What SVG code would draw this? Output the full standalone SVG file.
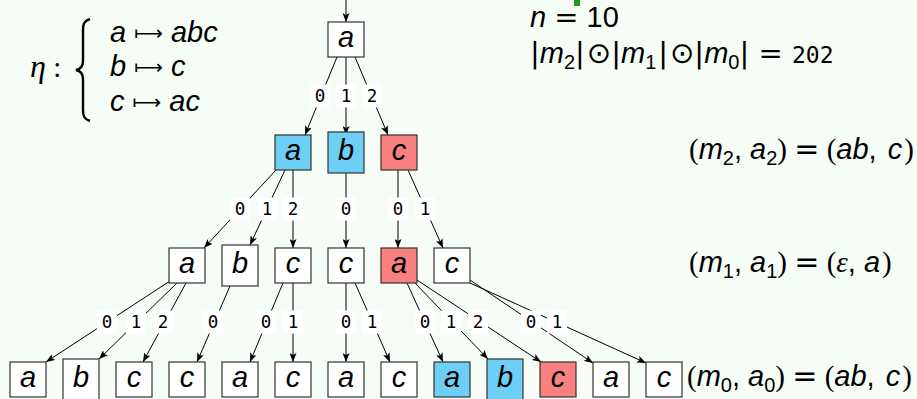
<svg xmlns="http://www.w3.org/2000/svg" width="917" height="399" viewBox="0 0 917 399">
<style>
.bg{fill:#f6fcf6}
.box{stroke:#333;stroke-width:1.2}
.w{fill:#fff}.bl{fill:#6dcff6}.rd{fill:#f88080}
.lt{font-family:"Liberation Sans",Arial,sans-serif;font-style:italic;font-size:29px;fill:#000;text-anchor:middle}
.e{stroke:#000;stroke-width:1;fill:none;marker-end:url(#ah)}
.lb rect{fill:#fff}
.lb text{font-family:"DejaVu Sans Mono",monospace;font-size:17.5px;text-anchor:middle;fill:#000}
.m{font-family:"Liberation Sans",Arial,sans-serif;font-size:29px;fill:#000}
.i{font-style:italic}
.s{font-size:20px;font-style:normal}
.p{font-family:"Liberation Serif","Times New Roman",serif;font-style:normal}
.d{font-family:"DejaVu Sans",sans-serif;font-style:normal}
.g{font-family:"Liberation Serif","Times New Roman",serif;font-style:italic}
.mt{font-family:"DejaVu Sans",sans-serif;font-style:normal;font-size:20px}
</style>
<defs>
<marker id="ah" viewBox="0 0 9 7" refX="9" refY="3.5" markerWidth="9" markerHeight="7" markerUnits="userSpaceOnUse" orient="auto"><path d="M0,0 L9,3.5 L0,7 L2,3.5 z" fill="#000"/></marker>
</defs>
<rect class="bg" x="0" y="0" width="917" height="399"/>
<rect x="574" y="0" width="6" height="6" fill="#1f9a1f"/>

<g id="connectors">
<path class="e" d="M346,0 L346,22"/>
<path class="e" d="M337,57 L305,135"/>
<path class="e" d="M346,57 L346,135"/>
<path class="e" d="M355,57 L388,135"/>
<path class="e" d="M276,170 L204,248"/>
<path class="e" d="M285,170 L250,245"/>
<path class="e" d="M293,170 L293,248"/>
<path class="e" d="M346,173 L346,248"/>
<path class="e" d="M398,170 L398,248"/>
<path class="e" d="M408,170 L443,248"/>
<path class="e" d="M170,281 L46,362"/>
<path class="e" d="M177,283 L99,359"/>
<path class="e" d="M186,283 L143,362"/>
<path class="e" d="M230,286 L197,362"/>
<path class="e" d="M283,283 L250,362"/>
<path class="e" d="M293,283 L293,362"/>
<path class="e" d="M346,283 L346,362"/>
<path class="e" d="M355,283 L390,362"/>
<path class="e" d="M407,283 L443,362"/>
<path class="e" d="M415,283 L488,359"/>
<path class="e" d="M417,280 L541,362"/>
<path class="e" d="M470,280 L593,363"/>
<path class="e" d="M470,283 L646,363"/>
<g class="lb">
<rect x="310" y="84.5" width="20" height="23"/><text x="320" y="102">0</text>
<rect x="336" y="84.5" width="20" height="23"/><text x="346" y="102">1</text>
<rect x="362" y="84.5" width="20" height="23"/><text x="372" y="102">2</text>
<rect x="230" y="197.5" width="20" height="23"/><text x="240" y="215">0</text>
<rect x="257" y="197.5" width="20" height="23"/><text x="267" y="215">1</text>
<rect x="283" y="197.5" width="20" height="23"/><text x="293" y="215">2</text>
<rect x="336" y="197.5" width="20" height="23"/><text x="346" y="215">0</text>
<rect x="388" y="197.5" width="20" height="23"/><text x="398" y="215">0</text>
<rect x="415" y="197.5" width="20" height="23"/><text x="425" y="215">1</text>
<rect x="97" y="310.5" width="20" height="23"/><text x="107" y="328">0</text>
<rect x="126" y="310.5" width="20" height="23"/><text x="136" y="328">1</text>
<rect x="153" y="310.5" width="20" height="23"/><text x="163" y="328">2</text>
<rect x="203" y="310.5" width="20" height="23"/><text x="213" y="328">0</text>
<rect x="256" y="310.5" width="20" height="23"/><text x="266" y="328">0</text>
<rect x="283" y="310.5" width="20" height="23"/><text x="293" y="328">1</text>
<rect x="336" y="310.5" width="20" height="23"/><text x="346" y="328">0</text>
<rect x="362" y="310.5" width="20" height="23"/><text x="372" y="328">1</text>
<rect x="415" y="310.5" width="20" height="23"/><text x="425" y="328">0</text>
<rect x="441" y="310.5" width="20" height="23"/><text x="451" y="328">1</text>
<rect x="468" y="310.5" width="20" height="23"/><text x="478" y="328">2</text>
<rect x="521" y="310.5" width="20" height="23"/><text x="531" y="328">0</text>
<rect x="547" y="310.5" width="20" height="23"/><text x="557" y="328">1</text>
</g>
</g>

<g id="n0"><rect class="box w" x="328" y="22" width="36" height="35"/><text class="lt" x="346" y="47">a</text></g>
<g id="n1a"><rect class="box bl" x="275" y="135" width="36" height="35"/><text class="lt" x="293" y="160">a</text></g>
<g id="n1b"><rect class="box bl" x="328" y="132" width="36" height="41"/><text class="lt" x="346" y="160">b</text></g>
<g id="n1c"><rect class="box rd" x="381" y="135" width="36" height="35"/><text class="lt" x="399" y="160">c</text></g>

<g id="n2a"><rect class="box w" x="169" y="248" width="36" height="35"/><text class="lt" x="187" y="273">a</text></g>
<g id="n2b"><rect class="box w" x="222" y="245" width="36" height="41"/><text class="lt" x="240" y="273">b</text></g>
<g id="n2c"><rect class="box w" x="275" y="248" width="36" height="35"/><text class="lt" x="293" y="273">c</text></g>
<g id="n2d"><rect class="box w" x="328" y="248" width="36" height="35"/><text class="lt" x="346" y="273">c</text></g>
<g id="n2e"><rect class="box rd" x="381" y="248" width="36" height="35"/><text class="lt" x="399" y="273">a</text></g>
<g id="n2f"><rect class="box w" x="434" y="248" width="36" height="35"/><text class="lt" x="452" y="273">c</text></g>

<g id="n3a"><rect class="box w" x="10" y="362" width="36" height="35"/><text class="lt" x="28" y="387">a</text></g>
<g id="n3b"><rect class="box w" x="63" y="359" width="36" height="41"/><text class="lt" x="81" y="387">b</text></g>
<g id="n3c"><rect class="box w" x="116" y="362" width="36" height="35"/><text class="lt" x="134" y="387">c</text></g>
<g id="n3d"><rect class="box w" x="169" y="362" width="36" height="35"/><text class="lt" x="187" y="387">c</text></g>
<g id="n3e"><rect class="box w" x="222" y="362" width="36" height="35"/><text class="lt" x="240" y="387">a</text></g>
<g id="n3f"><rect class="box w" x="275" y="362" width="36" height="35"/><text class="lt" x="293" y="387">c</text></g>
<g id="n3g"><rect class="box w" x="328" y="362" width="36" height="35"/><text class="lt" x="346" y="387">a</text></g>
<g id="n3h"><rect class="box w" x="381" y="362" width="36" height="35"/><text class="lt" x="399" y="387">c</text></g>
<g id="n3i"><rect class="box bl" x="434" y="362" width="36" height="35"/><text class="lt" x="452" y="387">a</text></g>
<g id="n3j"><rect class="box bl" x="487" y="359" width="36" height="41"/><text class="lt" x="505" y="387">b</text></g>
<g id="n3k"><rect class="box rd" x="540" y="362" width="36" height="35"/><text class="lt" x="558" y="387">c</text></g>
<g id="n3l"><rect class="box w" x="593" y="362" width="36" height="35"/><text class="lt" x="611" y="387">a</text></g>
<g id="n3m"><rect class="box w" x="646" y="362" width="36" height="35"/><text class="lt" x="664" y="387">c</text></g>

<g id="eta">
<text class="m" x="30" y="77"><tspan class="g" font-size="32">η</tspan><tspan class="p"> :</tspan></text>
<path d="M90,19 C84,21 83,24 83,30 L83,61 C83,66 81,69 76,70 C81,71 83,74 83,79 L83,110 C83,116 84,119 90,121" fill="none" stroke="#000" stroke-width="2.4"/>
<text class="m i" x="110" y="42"><tspan>a </tspan><tspan class="mt" dy="-2">⟼</tspan><tspan dy="2"> abc</tspan></text>
<text class="m i" x="110" y="76"><tspan>b </tspan><tspan class="mt" dy="-2">⟼</tspan><tspan dy="2"> c</tspan></text>
<text class="m i" x="110" y="111"><tspan>c </tspan><tspan class="mt" dy="-2">⟼</tspan><tspan dy="2"> ac</tspan></text>
</g>

<g id="info">
<text class="m" x="530" y="27"><tspan class="i">n </tspan><tspan class="d">=</tspan><tspan> 10</tspan></text>
<text class="m" x="530" y="63"><tspan class="d">|</tspan><tspan class="i">m</tspan><tspan class="s" dy="6">2</tspan><tspan class="d" dy="-6">|</tspan><tspan class="d" dx="2">⊙</tspan><tspan class="d">|</tspan><tspan class="i">m</tspan><tspan class="s" dy="6">1</tspan><tspan class="d" dy="-6" dx="2">|</tspan><tspan class="d" dx="2">⊙</tspan><tspan class="d">|</tspan><tspan class="i">m</tspan><tspan class="s" dy="6">0</tspan><tspan class="d" dy="-6">|</tspan><tspan class="d"> = </tspan><tspan font-family="DejaVu Sans Mono, monospace" font-size="23">202</tspan></text>
</g>

<g id="r2">
<text class="m" x="689" y="159"><tspan class="p">(</tspan><tspan class="i">m</tspan><tspan class="s" dy="6">2</tspan><tspan dy="-6">, </tspan><tspan class="i">a</tspan><tspan class="s" dy="6">2</tspan><tspan class="p" dy="-6">) </tspan><tspan class="d" font-size="30">=</tspan><tspan class="p"> (</tspan><tspan class="i">ab</tspan><tspan>, </tspan><tspan class="i" dx="3">c</tspan><tspan class="p" dx="2">)</tspan></text>
</g>
<g id="r1">
<text class="m" x="689" y="272"><tspan class="p">(</tspan><tspan class="i">m</tspan><tspan class="s" dy="6">1</tspan><tspan dy="-6">, </tspan><tspan class="i">a</tspan><tspan class="s" dy="6">1</tspan><tspan class="p" dy="-6">) </tspan><tspan class="d" font-size="30">=</tspan><tspan class="p"> (</tspan><tspan class="g">ε</tspan><tspan>, </tspan><tspan class="i">a</tspan><tspan class="p" dx="2">)</tspan></text>
</g>
<g id="r0">
<text class="m" x="687" y="386"><tspan class="p">(</tspan><tspan class="i">m</tspan><tspan class="s" dy="6">0</tspan><tspan dy="-6">, </tspan><tspan class="i">a</tspan><tspan class="s" dy="6">0</tspan><tspan class="p" dy="-6">) </tspan><tspan class="d" font-size="30">=</tspan><tspan class="p"> (</tspan><tspan class="i">ab</tspan><tspan>, </tspan><tspan class="i" dx="3">c</tspan><tspan class="p" dx="2">)</tspan></text>
</g>
</svg>
